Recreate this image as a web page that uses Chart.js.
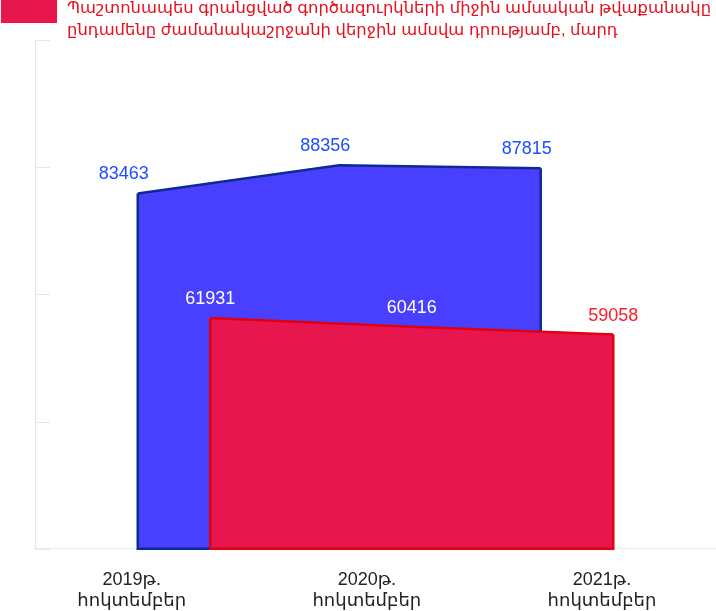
<!DOCTYPE html>
<html>
<head>
<meta charset="utf-8">
<script src="https://cdn.jsdelivr.net/npm/chart.js@4/dist/chart.umd.min.js"></script>
<style>
    html, body { margin: 0; padding: 0; background: #fff; }
    #wrap { position: relative; width: 716px; height: 611px; overflow: hidden; }
    #chart { display: block; }
    #legend { position: absolute; left: 0; top: -4px; font-family: "Liberation Sans", "DejaVu Sans", sans-serif; }
    #legend .box { position: absolute; left: 1px; top: 3px; width: 54px; height: 22px; background: #e8164f; border: 1px solid #ff1030; }
    #legend .txt { position: absolute; left: 67px; top: 0; width: 660px; font-size: 16.4px; line-height: 22px; color: #e8101f; white-space: nowrap; }
</style>
</head>
<body>
<div id="wrap">
    <canvas id="chart" width="716" height="632"></canvas>
    <div id="legend">
        <div class="box"></div>
        <div class="txt">Պաշտոնապես գրանցված գործազուրկների միջին ամսական թվաքանակը<br>ընդամենը ժամանակաշրջանի վերջին ամսվա դրությամբ, մարդ</div>
    </div>
</div>
<script>
// data
var periods = [["2019թ.", "հոկտեմբեր"], ["2020թ.", "հոկտեմբեր"], ["2021թ.", "հոկտեմբեր"]];
var averageMonthly = [83463, 88356, 87815];
var endOfPeriod = [61931, 60416, 59058];

// layout bits (not data)
var redShift = 0.36;          // red area is drawn a bit to the right of the blue one
var labelStart = -0.03;       // where the period labels sit on the x scale
var labelStep = 1.167;
var blueLabelColors = ["#1f4cff", "#1f4cff", "#1f4cff"];
var redLabelColors = ["#ffffff", "#ffffff", "#ff1a2e"];

function toPoints(list, shift){
    var pts = [];
    for(var i=0; i<list.length; i++){
        pts.push({x: i + shift, y: list[i]});
    }
    return pts;
}

// vertical sides + bottom of each area
var edgePlugin = {
    id: "edges",
    afterDatasetDraw: function(chart, args){
        var ds = chart.data.datasets[args.index];
        var pts = args.meta.data;
        var y = chart.scales.y;
        var base = y.getPixelForValue(y.min);
        var ctx = chart.ctx;
        var first = pts[0], last = pts[pts.length - 1];
        ctx.save();
        ctx.strokeStyle = ds.borderColor;
        ctx.lineWidth = ds.borderWidth;
        ctx.beginPath();
        ctx.moveTo(first.x, first.y);
        ctx.lineTo(first.x, base);
        ctx.lineTo(last.x, base);
        ctx.lineTo(last.x, last.y);
        ctx.stroke();
        ctx.restore();
    }
};

// value labels above the points
var valuePlugin = {
    id: "values",
    afterDatasetsDraw: function(chart){
        var ctx = chart.ctx;
        ctx.save();
        ctx.font = "18px 'Liberation Sans', Arial, sans-serif";
        ctx.textAlign = "center";
        ctx.textBaseline = "bottom";
        chart.data.datasets.forEach(function(ds, di){
            var meta = chart.getDatasetMeta(di);
            meta.data.forEach(function(p, i){
                ctx.fillStyle = ds.labelColors[i];
                ctx.fillText(ds.data[i].y, p.x + ds.labelDx, p.y - 10);
            });
        });
        ctx.restore();
    }
};

// short tick marks pointing into the plot
var tickPlugin = {
    id: "yTicks",
    afterDraw: function(chart){
        var y = chart.scales.y;
        var ctx = chart.ctx;
        var left = chart.chartArea.left;
        ctx.save();
        ctx.strokeStyle = "#e6e6e6";
        ctx.lineWidth = 1;
        y.ticks.forEach(function(t){
            var py = Math.round(y.getPixelForValue(t.value)) + 0.5;
            ctx.beginPath();
            ctx.moveTo(left, py);
            ctx.lineTo(left + 15, py);
            ctx.stroke();
        });
        ctx.restore();
    }
};

var chart = new Chart(document.getElementById("chart"), {
    type: "line",
    data: {
        datasets: [
            {
                label: "average",
                data: toPoints(averageMonthly, 0),
                backgroundColor: "#4940ff",
                borderColor: "#0d2a94",
                borderWidth: 2.5,
                fill: "start",
                tension: 0,
                pointRadius: 0,
                order: 1,
                labelColors: blueLabelColors,
                labelDx: -14
            },
            {
                label: "end of period",
                data: toPoints(endOfPeriod, redShift),
                backgroundColor: "#e8164f",
                borderColor: "#e00012",
                borderWidth: 2.5,
                fill: "start",
                tension: 0,
                pointRadius: 0,
                order: 0,
                labelColors: redLabelColors,
                labelDx: 0
            }
        ]
    },
    options: {
        responsive: false,
        animation: false,
        layout: { padding: { left: 35, top: 40, right: 0, bottom: 0 } },
        plugins: {
            legend: { display: false },
            tooltip: { enabled: false }
        },
        scales: {
            x: {
                type: "linear",
                min: -0.51,
                max: 2.87,
                afterBuildTicks: function(axis){
                    var t = [];
                    for(var i=0; i<periods.length; i++){
                        t.push({value: labelStart + i * labelStep});
                    }
                    axis.ticks = t;
                },
                grid: { display: false, drawTicks: false },
                border: { display: true, color: "#ececec", width: 1 },
                ticks: {
                    callback: function(value, index){ return periods[index]; },
                    autoSkip: false,
                    maxRotation: 0,
                    padding: 20,
                    color: "#222222",
                    font: { family: "'Liberation Sans', 'DejaVu Sans', sans-serif", size: 18, lineHeight: 1.2 }
                }
            },
            y: {
                min: 22000,
                max: 110000,
                ticks: { display: false, stepSize: 21000 },
                grid: { drawOnChartArea: false, drawTicks: false },
                border: { display: true, color: "#e6e6e6", width: 1 }
            }
        }
    },
    plugins: [edgePlugin, valuePlugin, tickPlugin]
});
</script>
</body>
</html>
